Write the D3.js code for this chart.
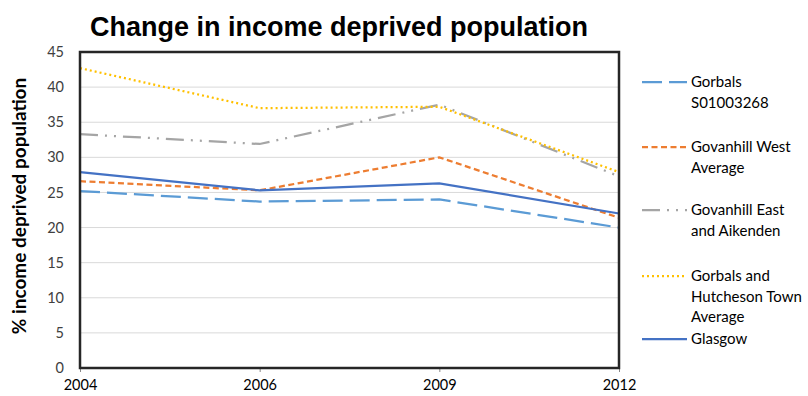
<!DOCTYPE html>
<html>
<head>
<meta charset="utf-8">
<script src="https://cdn.jsdelivr.net/npm/d3@7"></script>
<style>
  body { margin: 0; background: #fff; }
  text { font-family: Lato, 'Open Sans', sans-serif; }
</style>
</head>
<body>
<div id="chart"></div>
<script>
// values
var years = ['2004', '2006', '2009', '2012']
var gorbals = [25.2, 23.7, 24.0, 20.0]
var govanhillWest = [26.6, 25.3, 30.0, 21.4]
var govanhillEast = [33.3, 31.9, 37.5, 27.3]
var gorbalsHutcheson = [42.7, 37.0, 37.2, 27.9]
var glasgow = [27.9, 25.3, 26.3, 22.0]
var yTicks = [0, 5, 10, 15, 20, 25, 30, 35, 40, 45]

var series = [
  { name: ['Gorbals', 'S01003268'], values: gorbals, color: '#5B9BD5', dash: '20,7' },
  { name: ['Govanhill West', 'Average'], values: govanhillWest, color: '#ED7D31', dash: '6,3.5' },
  { name: ['Govanhill East', 'and Aikenden'], values: govanhillEast, color: '#A5A5A5', dash: '18,7,2,7,2,7' },
  { name: ['Gorbals and', 'Hutcheson Town', 'Average'], values: gorbalsHutcheson, color: '#FFC000', dash: '2,3' },
  { name: ['Glasgow'], values: glasgow, color: '#4472C4', dash: null }
]
var legendY = [82, 147, 210, 276, 339]

var width = 808
var height = 396
var plotLeft = 80, plotRight = 619, plotTop = 52, plotBottom = 368

var svg = d3.select('#chart').append('svg')
  .attr('width', width)
  .attr('height', height)

var x = d3.scalePoint().domain(years).range([plotLeft, plotRight])
var y = d3.scaleLinear().domain([0, 45]).range([plotBottom, plotTop])

// title
svg.append('text')
  .attr('x', 339)
  .attr('y', 36)
  .attr('text-anchor', 'middle')
  .style('font-family', "'Liberation Sans', Arial, sans-serif")
  .style('font-weight', 'bold')
  .style('font-size', '27px')
  .attr('fill', '#000')
  .text('Change in income deprived population')

// grid lines
svg.append('g')
  .attr('class', 'grid')
  .selectAll('line')
  .data(yTicks.filter(function (d) { return d > 0 && d < 45 }))
  .enter().append('line')
  .attr('x1', plotLeft)
  .attr('x2', plotRight)
  .attr('y1', function (d) { return y(d) })
  .attr('y2', function (d) { return y(d) })
  .attr('stroke', '#d9d9d9')
  .attr('stroke-width', 1)

// y axis
var yAxis = d3.axisLeft(y).tickValues(yTicks).tickSize(0).tickPadding(16)
svg.append('g')
  .attr('transform', 'translate(' + plotLeft + ',0)')
  .call(yAxis)
  .call(function (g) { g.select('.domain').remove() })
  .selectAll('text')
  .style('font-family', "Lato, 'Open Sans', sans-serif")
  .style('font-size', '14.5px')
  .attr('fill', '#404040')

// x axis
var xAxis = d3.axisBottom(x).tickSize(4).tickPadding(8)
svg.append('g')
  .attr('transform', 'translate(0,' + plotBottom + ')')
  .call(xAxis)
  .call(function (g) {
    g.select('.domain').remove()
    g.selectAll('line').attr('stroke', '#888')
  })
  .selectAll('text')
  .style('font-family', "Lato, 'Open Sans', sans-serif")
  .style('font-size', '14.5px')
  .attr('fill', '#000')

// y label
svg.append('text')
  .attr('transform', 'translate(26,206) rotate(-90)')
  .attr('text-anchor', 'middle')
  .style('font-weight', 'bold')
  .style('font-size', '19px')
  .attr('fill', '#000')
  .text('% income deprived population')

// lines
var line = d3.line()
  .x(function (d, i) { return x(years[i]) })
  .y(function (d) { return y(d) })

svg.append('g')
  .attr('class', 'lines')
  .selectAll('path')
  .data(series)
  .enter().append('path')
  .attr('d', function (d) { return line(d.values) })
  .attr('fill', 'none')
  .attr('stroke', function (d) { return d.color })
  .attr('stroke-width', 2.25)
  .attr('stroke-dasharray', function (d) { return d.dash })

// plot border
svg.append('rect')
  .attr('x', plotLeft)
  .attr('y', plotTop)
  .attr('width', plotRight - plotLeft)
  .attr('height', plotBottom - plotTop)
  .attr('fill', 'none')
  .attr('stroke', '#262626')
  .attr('stroke-width', 2.5)

// legend
var legend = svg.append('g').attr('class', 'legend')
series.forEach(function (s, i) {
  var ly = legendY[i]
  legend.append('line')
    .attr('x1', 642)
    .attr('x2', 687)
    .attr('y1', ly)
    .attr('y2', ly)
    .attr('stroke', s.color)
    .attr('stroke-width', 2.25)
    .attr('stroke-dasharray', s.dash)
  s.name.forEach(function (t, j) {
    legend.append('text')
      .attr('x', 691)
      .attr('y', ly + 5 + j * 20.5)
      .style('font-size', '15px')
      .attr('fill', '#000')
      .text(t)
  })
})
</script>
</body>
</html>
